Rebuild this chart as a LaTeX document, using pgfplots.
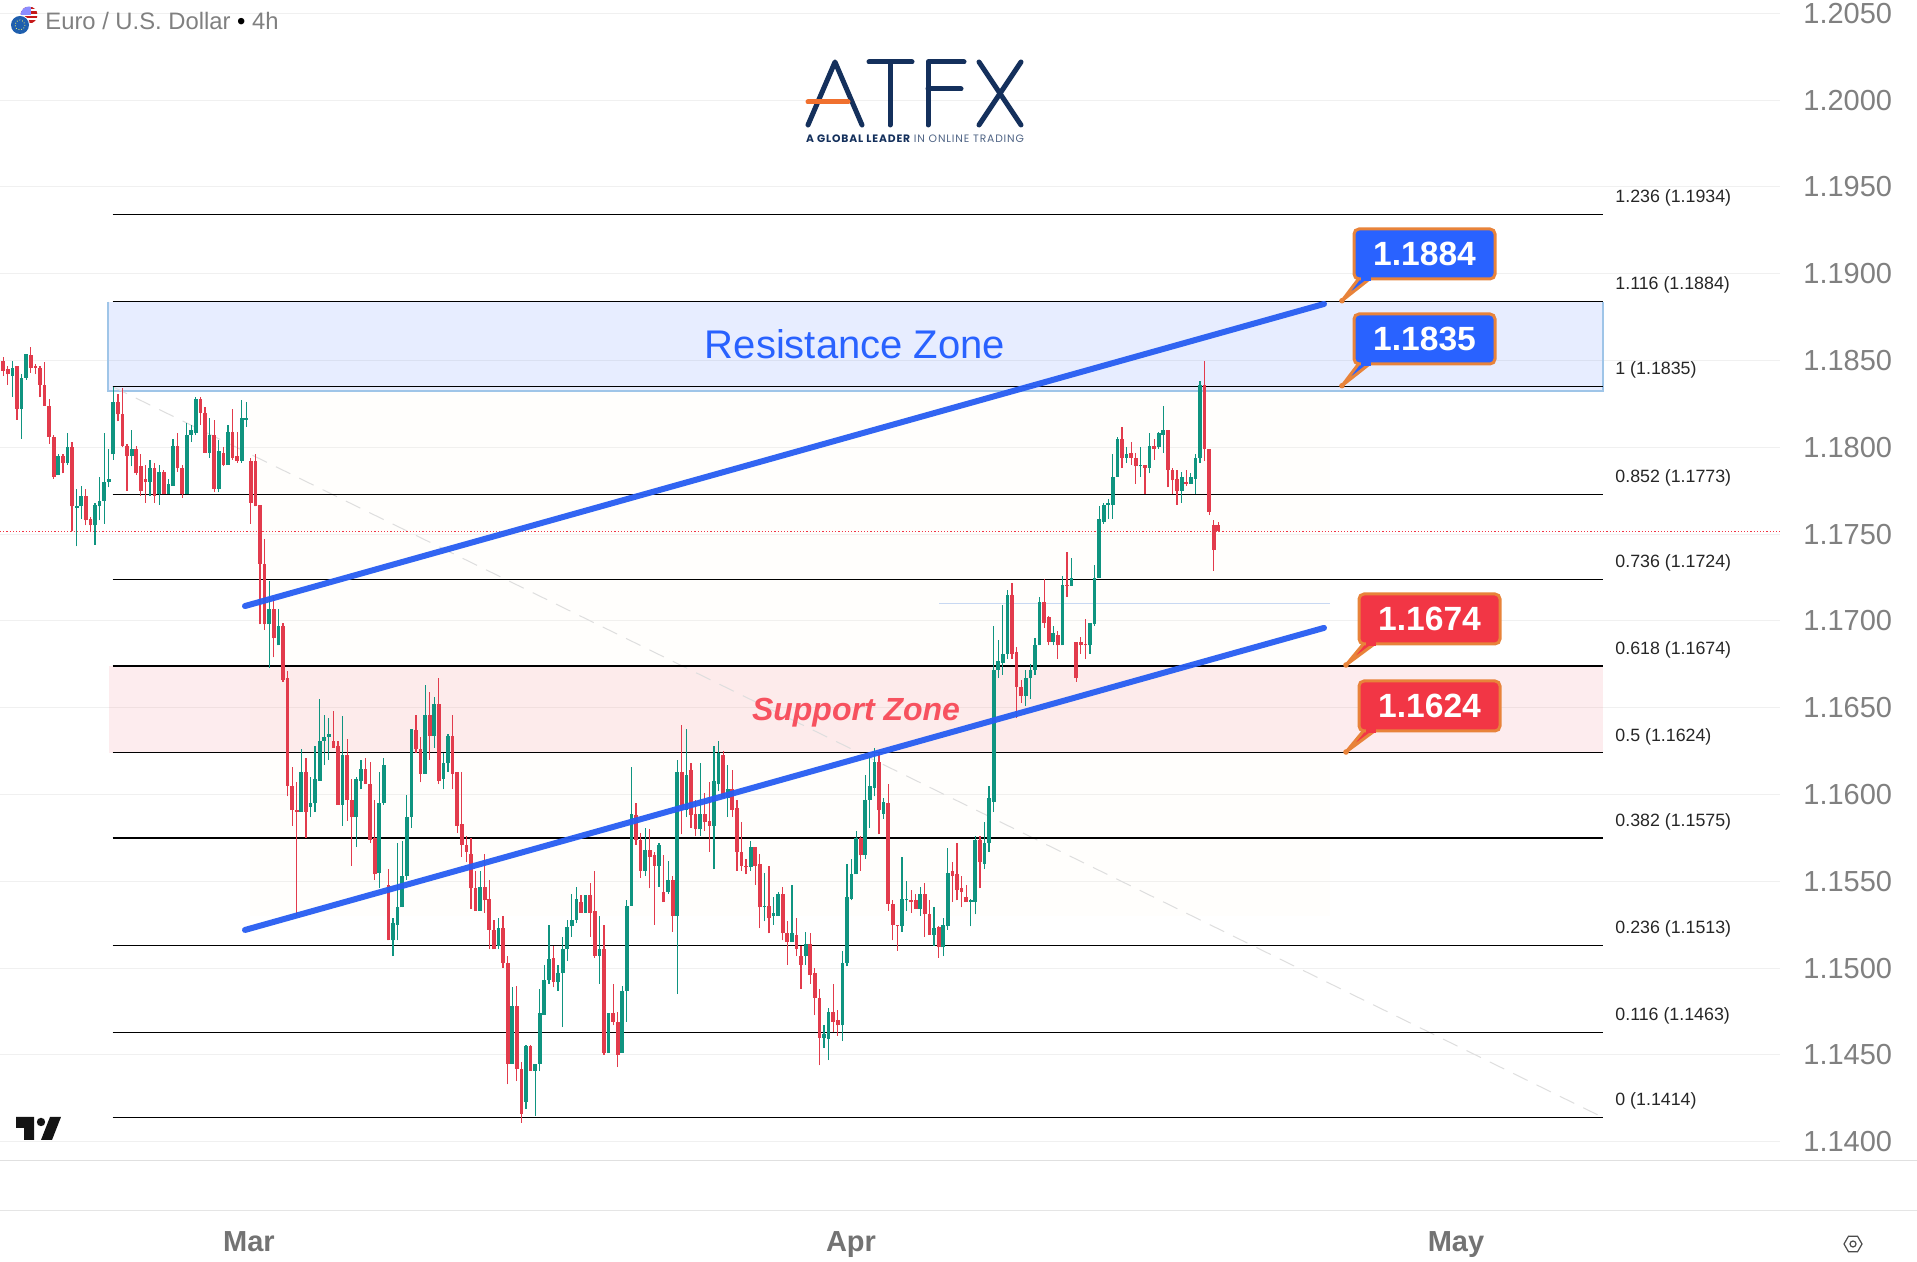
\documentclass[border=0pt]{standalone}
\usepackage{fontspec}
\setmainfont{Liberation Sans}
\newfontfamily\logofont{Poppins}
\usepackage{pgfplots}
\usepackage{pgfplotstable}
\pgfplotsset{compat=1.18}
\definecolor{upc}{HTML}{0F9480}
\definecolor{dnc}{HTML}{E23B4C}
\definecolor{tvblue}{HTML}{2962FF}
\definecolor{tvred}{HTML}{F23645}
\definecolor{cborder}{HTML}{E8833A}
\definecolor{navy}{HTML}{14305C}
\definecolor{lblgray}{HTML}{808080}
\definecolor{paley}{HTML}{FFF5D6}
\definecolor{supp}{HTML}{F7525F}
\definecolor{logoor}{HTML}{F0702E}
\definecolor{zoneb}{HTML}{9FC5E8}
\definecolor{thinb}{HTML}{C8D8F2}
\definecolor{eurob}{HTML}{1F5FAE}
\pgfplotstableread{
i o h l c
0 1.1850 1.1852 1.1841 1.1844
1 1.1845 1.1847 1.1836 1.1842
2 1.1841 1.1850 1.1829 1.1846
3 1.1847 1.1847 1.1816 1.1822
4 1.1822 1.1842 1.1805 1.1840
5 1.1840 1.1854 1.1839 1.1854
6 1.1853 1.1858 1.1843 1.1846
7 1.1847 1.1848 1.1842 1.1846
8 1.1846 1.1847 1.1829 1.1836
9 1.1836 1.1849 1.1824 1.1824
10 1.1824 1.1828 1.1802 1.1806
11 1.1806 1.1807 1.1782 1.1783
12 1.1784 1.1796 1.1784 1.1795
13 1.1795 1.1796 1.1785 1.1791
14 1.1791 1.1808 1.1790 1.1800
15 1.1800 1.1803 1.1752 1.1766
16 1.1765 1.1776 1.1743 1.1766
17 1.1766 1.1778 1.1759 1.1772
18 1.1772 1.1776 1.1755 1.1758
19 1.1759 1.1760 1.1751 1.1755
20 1.1755 1.1768 1.1744 1.1767
21 1.1766 1.1783 1.1758 1.1769
22 1.1769 1.1808 1.1756 1.1780
23 1.1780 1.1799 1.1777 1.1782
24 1.1796 1.1835 1.1793 1.1826
25 1.1826 1.1831 1.1815 1.1819
26 1.1819 1.1834 1.1800 1.1801
27 1.1801 1.1802 1.1775 1.1795
28 1.1795 1.1810 1.1789 1.1799
29 1.1799 1.1801 1.1784 1.1785
30 1.1789 1.1796 1.1772 1.1775
31 1.1782 1.1790 1.1768 1.1780
32 1.1780 1.1793 1.1772 1.1788
33 1.1788 1.1791 1.1768 1.1772
34 1.1773 1.1790 1.1767 1.1786
35 1.1786 1.1787 1.1773 1.1773
36 1.1773 1.1782 1.1773 1.1779
37 1.1778 1.1805 1.1778 1.1801
38 1.1801 1.1808 1.1786 1.1788
39 1.1788 1.1790 1.1771 1.1773
40 1.1773 1.1814 1.1773 1.1807
41 1.1807 1.1813 1.1803 1.1810
42 1.1808 1.1829 1.1807 1.1828
43 1.1828 1.1829 1.1813 1.1820
44 1.1820 1.1823 1.1797 1.1797
45 1.1797 1.1817 1.1794 1.1807
46 1.1807 1.1816 1.1774 1.1776
47 1.1776 1.1804 1.1774 1.1798
48 1.1797 1.1800 1.1789 1.1790
49 1.1790 1.1813 1.1790 1.1809
50 1.1809 1.1822 1.1793 1.1794
51 1.1795 1.1809 1.1791 1.1792
52 1.1792 1.1827 1.1791 1.1817
53 1.1816 1.1826 1.1812 1.1817
54 1.1792 1.1794 1.1756 1.1768
55 1.1792 1.1796 1.1766 1.1766
56 1.1767 1.1767 1.1698 1.1733
57 1.1733 1.1747 1.1695 1.1698
58 1.1698 1.1723 1.1673 1.1707
59 1.1707 1.1714 1.1679 1.1690
60 1.1686 1.1707 1.1686 1.1697
61 1.1697 1.1699 1.1665 1.1666
62 1.1667 1.1671 1.1599 1.1605
63 1.1605 1.1616 1.1582 1.1591
64 1.1591 1.1607 1.1530 1.1590
65 1.1590 1.1626 1.1590 1.1613
66 1.1613 1.1621 1.1575 1.1590
67 1.1593 1.1610 1.1587 1.1595
68 1.1595 1.1628 1.1590 1.1609
69 1.1608 1.1655 1.1608 1.1631
70 1.1631 1.1646 1.1617 1.1633
71 1.1633 1.1644 1.1620 1.1635
72 1.1631 1.1648 1.1627 1.1627
73 1.1628 1.1631 1.1594 1.1594
74 1.1594 1.1645 1.1582 1.1623
75 1.1623 1.1632 1.1585 1.1597
76 1.1597 1.1609 1.1559 1.1587
77 1.1587 1.1610 1.1570 1.1609
78 1.1608 1.1620 1.1603 1.1615
79 1.1615 1.1621 1.1606 1.1606
80 1.1606 1.1619 1.1572 1.1574
81 1.1575 1.1597 1.1551 1.1554
82 1.1555 1.1613 1.1546 1.1595
83 1.1595 1.1621 1.1594 1.1617
84 1.1548 1.1557 1.1516 1.1516
85 1.1516 1.1529 1.1507 1.1526
86 1.1525 1.1572 1.1516 1.1535
87 1.1535 1.1573 1.1535 1.1553
88 1.1553 1.1600 1.1551 1.1587
89 1.1587 1.1638 1.1581 1.1638
90 1.1637 1.1646 1.1624 1.1626
91 1.1626 1.1633 1.1607 1.1612
92 1.1612 1.1663 1.1612 1.1646
93 1.1646 1.1659 1.1620 1.1634
94 1.1634 1.1656 1.1627 1.1652
95 1.1652 1.1667 1.1606 1.1608
96 1.1609 1.1624 1.1603 1.1618
97 1.1618 1.1635 1.1613 1.1634
98 1.1634 1.1646 1.1603 1.1612
99 1.1613 1.1613 1.1578 1.1582
100 1.1583 1.1613 1.1564 1.1571
101 1.1571 1.1576 1.1561 1.1567
102 1.1566 1.1575 1.1534 1.1546
103 1.1546 1.1556 1.1533 1.1533
104 1.1533 1.1556 1.1533 1.1547
105 1.1547 1.1566 1.1532 1.1539
106 1.1540 1.1551 1.1511 1.1522
107 1.1522 1.1528 1.1511 1.1511
108 1.1513 1.1529 1.1511 1.1523
109 1.1523 1.1530 1.1500 1.1503
110 1.1503 1.1507 1.1433 1.1445
111 1.1445 1.1489 1.1445 1.1478
112 1.1478 1.1490 1.1435 1.1442
113 1.1442 1.1446 1.1411 1.1416
114 1.1423 1.1456 1.1419 1.1455
115 1.1455 1.1456 1.1441 1.1441
116 1.1441 1.1445 1.1415 1.1445
117 1.1445 1.1488 1.1441 1.1474
118 1.1473 1.1502 1.1473 1.1493
119 1.1493 1.1525 1.1491 1.1505
120 1.1506 1.1513 1.1489 1.1492
121 1.1492 1.1502 1.1487 1.1497
122 1.1497 1.1518 1.1466 1.1511
123 1.1511 1.1528 1.1504 1.1524
124 1.1524 1.1543 1.1518 1.1528
125 1.1528 1.1547 1.1526 1.1540
126 1.1538 1.1542 1.1532 1.1532
127 1.1532 1.1542 1.1532 1.1542
128 1.1542 1.1549 1.1518 1.1532
129 1.1533 1.1556 1.1506 1.1507
130 1.1507 1.1530 1.1491 1.1511
131 1.1511 1.1525 1.1450 1.1451
132 1.1451 1.1474 1.1451 1.1474
133 1.1474 1.1491 1.1467 1.1469
134 1.1469 1.1475 1.1443 1.1450
135 1.1451 1.1490 1.1451 1.1487
136 1.1487 1.1539 1.1469 1.1536
137 1.1536 1.1616 1.1536 1.1589
138 1.1588 1.1595 1.1571 1.1574
139 1.1574 1.1578 1.1552 1.1556
140 1.1556 1.1581 1.1553 1.1568
141 1.1568 1.1580 1.1546 1.1564
142 1.1565 1.1567 1.1525 1.1559
143 1.1559 1.1572 1.1547 1.1571
144 1.1544 1.1565 1.1538 1.1538
145 1.1544 1.1562 1.1543 1.1551
146 1.1551 1.1553 1.1521 1.1530
147 1.1530 1.1620 1.1485 1.1613
148 1.1613 1.1640 1.1577 1.1591
149 1.1591 1.1638 1.1587 1.1611
150 1.1614 1.1618 1.1581 1.1588
151 1.1589 1.1597 1.1576 1.1580
152 1.1580 1.1618 1.1576 1.1589
153 1.1589 1.1601 1.1579 1.1584
154 1.1585 1.1607 1.1567 1.1582
155 1.1582 1.1628 1.1557 1.1608
156 1.1606 1.1631 1.1602 1.1624
157 1.1623 1.1625 1.1598 1.1598
158 1.1598 1.1617 1.1587 1.1603
159 1.1603 1.1614 1.1587 1.1591
160 1.1592 1.1597 1.1556 1.1567
161 1.1567 1.1584 1.1556 1.1559
162 1.1559 1.1563 1.1554 1.1558
163 1.1558 1.1573 1.1556 1.1570
164 1.1570 1.1570 1.1548 1.1559
165 1.1560 1.1566 1.1523 1.1535
166 1.1535 1.1555 1.1527 1.1536
167 1.1536 1.1559 1.1520 1.1529
168 1.1530 1.1541 1.1525 1.1532
169 1.1530 1.1544 1.1530 1.1543
170 1.1543 1.1547 1.1516 1.1520
171 1.1520 1.1527 1.1502 1.1515
172 1.1515 1.1548 1.1515 1.1520
173 1.1519 1.1529 1.1507 1.1511
174 1.1507 1.1513 1.1488 1.1502
175 1.1507 1.1521 1.1502 1.1514
176 1.1514 1.1520 1.1491 1.1496
177 1.1497 1.1500 1.1473 1.1483
178 1.1483 1.1488 1.1444 1.1460
179 1.1460 1.1467 1.1454 1.1462
180 1.1459 1.1477 1.1447 1.1475
181 1.1475 1.1491 1.1463 1.1469
182 1.1470 1.1476 1.1461 1.1467
183 1.1467 1.1510 1.1458 1.1503
184 1.1503 1.1560 1.1501 1.1541
185 1.1540 1.1563 1.1539 1.1554
186 1.1554 1.1579 1.1554 1.1575
187 1.1575 1.1576 1.1556 1.1565
188 1.1565 1.1611 1.1563 1.1597
189 1.1597 1.1622 1.1581 1.1605
190 1.1604 1.1627 1.1599 1.1619
191 1.1619 1.1624 1.1577 1.1591
192 1.1589 1.1598 1.1586 1.1596
193 1.1595 1.1606 1.1533 1.1537
194 1.1537 1.1539 1.1516 1.1525
195 1.1525 1.1525 1.1510 1.1524
196 1.1524 1.1564 1.1521 1.1540
197 1.1539 1.1550 1.1533 1.1540
198 1.1539 1.1545 1.1532 1.1538
199 1.1539 1.1543 1.1534 1.1534
200 1.1534 1.1547 1.1530 1.1543
201 1.1543 1.1549 1.1518 1.1531
202 1.1531 1.1539 1.1519 1.1519
203 1.1519 1.1535 1.1513 1.1523
204 1.1524 1.1524 1.1506 1.1512
205 1.1512 1.1529 1.1507 1.1525
206 1.1524 1.1569 1.1522 1.1555
207 1.1556 1.1561 1.1538 1.1553
208 1.1554 1.1572 1.1539 1.1545
209 1.1546 1.1553 1.1535 1.1544
210 1.1541 1.1548 1.1538 1.1538
211 1.1538 1.1540 1.1524 1.1539
212 1.1538 1.1576 1.1531 1.1574
213 1.1574 1.1576 1.1546 1.1561
214 1.1560 1.1584 1.1557 1.1572
215 1.1572 1.1605 1.1567 1.1598
216 1.1596 1.1697 1.1590 1.1672
217 1.1672 1.1689 1.1667 1.1677
218 1.1676 1.1709 1.1669 1.1681
219 1.1681 1.1718 1.1678 1.1715
220 1.1715 1.1722 1.1678 1.1681
221 1.1682 1.1685 1.1644 1.1662
222 1.1662 1.1666 1.1653 1.1657
223 1.1657 1.1672 1.1651 1.1667
224 1.1667 1.1675 1.1655 1.1672
225 1.1672 1.1690 1.1669 1.1686
226 1.1686 1.1714 1.1686 1.1711
227 1.1711 1.1724 1.1696 1.1699
228 1.1702 1.1703 1.1686 1.1688
229 1.1688 1.1697 1.1686 1.1693
230 1.1692 1.1694 1.1678 1.1686
231 1.1686 1.1726 1.1686 1.1721
232 1.1721 1.1740 1.1714 1.1720
233 1.1720 1.1736 1.1720 1.1725
234 1.1688 1.1688 1.1665 1.1667
235 1.1688 1.1691 1.1681 1.1686
236 1.1687 1.1701 1.1678 1.1686
237 1.1686 1.1699 1.1681 1.1699
238 1.1698 1.1732 1.1697 1.1725
239 1.1725 1.1766 1.1725 1.1759
240 1.1757 1.1768 1.1756 1.1767
241 1.1767 1.1770 1.1759 1.1768
242 1.1767 1.1796 1.1759 1.1783
243 1.1783 1.1806 1.1783 1.1805
244 1.1805 1.1812 1.1788 1.1794
245 1.1794 1.1800 1.1791 1.1796
246 1.1797 1.1803 1.1790 1.1794
247 1.1794 1.1797 1.1779 1.1789
248 1.1789 1.1800 1.1783 1.1790
249 1.1790 1.1790 1.1773 1.1788
250 1.1788 1.1808 1.1785 1.1801
251 1.1801 1.1805 1.1793 1.1799
252 1.1800 1.1809 1.1799 1.1808
253 1.1807 1.1824 1.1797 1.1810
254 1.1810 1.1810 1.1777 1.1787
255 1.1787 1.1788 1.1773 1.1781
256 1.1782 1.1787 1.1767 1.1775
257 1.1775 1.1786 1.1768 1.1783
258 1.1780 1.1787 1.1778 1.1779
259 1.1779 1.1785 1.1779 1.1783
260 1.1782 1.1796 1.1773 1.1794
261 1.1794 1.1838 1.1791 1.1836
262 1.1836 1.1850 1.1792 1.1799
263 1.1799 1.1799 1.1761 1.1763
264 1.1755 1.1758 1.1729 1.1741
265 1.1755 1.1757 1.1751 1.1752
}\candles
\newcommand{\fib}[2]{%
  \addplot[black,line width=0.6pt,forget plot] coordinates {(112.5,#2)(1603,#2)};
  \node[anchor=west,inner sep=0pt,text=black!85,font=\fontsize{8.9}{10}\selectfont,yshift=8.2pt] at (axis cs:1615,#2) {#1 (#2)};
}
\begin{document}
\begin{tikzpicture}
\fill[white] (0,0) rectangle (958.5pt,631pt);
\path[use as bounding box] (0,0) rectangle (958.5pt,631pt);
\begin{axis}[
  at={(0pt,51pt)},anchor=origin,
  scale only axis,width=890pt,height=580pt,
  xmin=0,xmax=1780,ymin=1.13895,ymax=1.20577,
  axis x line*=bottom,axis y line*=right,
  axis line style={draw=none},
  x axis line style={draw=none},
  major tick length=0pt,
  xtick={249,851,1456},xticklabels={Mar,Apr,May},
  ytick={1.14,1.145,1.15,1.155,1.16,1.165,1.17,1.175,1.18,1.185,1.19,1.195,1.2,1.205},
  yticklabel pos=right,
  ymajorgrids,grid style={draw=black!6,line width=0.5pt},
  y tick label style={font=\fontsize{14.5}{16}\selectfont,text=lblgray,inner sep=0pt,anchor=west,xshift=11.5pt,
     /pgf/number format/fixed,/pgf/number format/fixed zerofill,/pgf/number format/precision=4,/pgf/number format/assume math mode=true},
  x tick label style={font=\fontsize{14.5}{16}\selectfont\bfseries,text=black!55,inner sep=0pt,anchor=base,yshift=-45.75pt},
  unbounded coords=discard,
]
% pale area, zones
\addplot[fill=paley,draw=none,fill opacity=0.07,forget plot] coordinates {(250,1.1835)(1330,1.1835)(1330,1.1530)(250,1.1530)} -- cycle;
\addplot[fill=tvblue,fill opacity=0.11,draw=none,forget plot] coordinates {(108,1.1884)(1603,1.1884)(1603,1.18325)(108,1.18325)} -- cycle;
\addplot[draw=zoneb,line width=0.6pt,forget plot] coordinates {(108,1.1884)(108,1.18325)(1603,1.18325)(1603,1.1884)};
\addplot[fill=tvred,fill opacity=0.09,draw=none,forget plot] coordinates {(109,1.1674)(1603,1.1674)(1603,1.1624)(109,1.1624)} -- cycle;
% light horizontal line
\addplot[thinb,line width=0.7pt,forget plot] coordinates {(939,1.1710)(1330,1.1710)};
% dashed diagonal
\addplot[black!13,line width=0.5pt,dash pattern=on 8pt off 5pt,forget plot] coordinates {(112.5,1.1835)(1603,1.1414)};
% dotted last price
\addplot[tvred,line width=0.45pt,dash pattern=on 0.6pt off 1pt,forget plot] coordinates {(0,1.17518)(1780,1.17518)};
% fib levels
\fib{1.236}{1.1934}
\fib{1.116}{1.1884}
\fib{1}{1.1835}
\fib{0.852}{1.1773}
\fib{0.736}{1.1724}
\fib{0.618}{1.1674}
\fib{0.5}{1.1624}
\fib{0.382}{1.1575}
\fib{0.236}{1.1513}
\fib{0.116}{1.1463}
\fib{0}{1.1414}
% candles: wicks
\addplot[draw=none,no markers,forget plot,
  x filter/.expression={\thisrow{c}>=\thisrow{o} ? x : nan},
  error bars/.cd,y dir=plus,y explicit,error mark=none,
  error bar style={draw=upc,line width=0.6pt}]
  table[x expr=3.3+4.585*\thisrow{i},y=l,y error plus expr=\thisrow{h}-\thisrow{l}] {\candles};
\addplot[draw=none,no markers,forget plot,
  x filter/.expression={\thisrow{c}<\thisrow{o} ? x : nan},
  error bars/.cd,y dir=plus,y explicit,error mark=none,
  error bar style={draw=dnc,line width=0.6pt}]
  table[x expr=3.3+4.585*\thisrow{i},y=l,y error plus expr=\thisrow{h}-\thisrow{l}] {\candles};
% candles: bodies
\addplot[draw=none,no markers,forget plot,
  x filter/.expression={\thisrow{c}>=\thisrow{o} ? x : nan},
  error bars/.cd,y dir=plus,y explicit,error mark=none,
  error bar style={draw=upc,line width=1.85pt}]
  table[x expr=3.3+4.585*\thisrow{i},y=o,y error plus expr=\thisrow{c}-\thisrow{o}] {\candles};
\addplot[draw=none,no markers,forget plot,
  x filter/.expression={\thisrow{c}<\thisrow{o} ? x : nan},
  error bars/.cd,y dir=plus,y explicit,error mark=none,
  error bar style={draw=dnc,line width=1.85pt}]
  table[x expr=3.3+4.585*\thisrow{i},y=c,y error plus expr=\thisrow{o}-\thisrow{c}] {\candles};
% trend lines
\addplot[tvblue!95!black,opacity=0.95,line width=3pt,line cap=round,forget plot] coordinates {(245,1.17086)(1324,1.18826)};
\addplot[tvblue!95!black,opacity=0.95,line width=3pt,line cap=round,forget plot] coordinates {(245,1.15220)(1324,1.16960)};
% zone names
\node[text=tvblue,font=\fontsize{20}{22}\selectfont] at (axis cs:855,1.18592) {Resistance Zone};
\node[text=supp,font=\fontsize{16}{18}\selectfont\bfseries\itshape] at (axis cs:856,1.16470) {Support Zone};
\end{axis}
% overlay in image pixels (y down)
\begin{scope}[shift={(0pt,631pt)},x=0.5pt,y=-0.5pt]
  % axis bottom rules
  \draw[black!12,line width=0.9pt] (0,1160.5) -- (1917,1160.5);
  \draw[black!10,line width=0.5pt] (0,1211) -- (1917,1211);
  % header
  \begin{scope}
    \clip (29,15) circle (8.5);
    \fill[white] (20,6) rectangle (38,24);
    \foreach \yy in {7,11.5,16,20.5}{\fill[red!75!black!90] (20,\yy) rectangle (38,\yy+2.4);}
    \fill[blue!45] (20,6) rectangle (31,15);
  \end{scope}
  \fill[white] (20,25) circle (10);
  \fill[eurob] (20,25) circle (9);
  \draw[yellow!60,densely dotted,line width=0.4pt] (20,25) circle (5);
  \node[anchor=west,inner sep=0pt,text=lblgray,font=\fontsize{11.9}{13}\selectfont] at (45,21) {Euro / U.S. Dollar {\color{black}\textbullet} 4h};
  % logo
  \begin{scope}[line width=2.5pt,draw=navy,line cap=round,line join=round]
    \draw (808,125) -- (835,62) -- (862,125);
    \draw (869,62) -- (912,62);
    \draw (890,62) -- (890,125);
    \draw (928,125) -- (928,62) -- (964,62);
    \draw (928,89) -- (961,89);
    \draw (979,62) -- (1021,125);
    \draw (1021,62) -- (979,125);
    \draw[draw=logoor] (808,102) -- (848,102);
  \end{scope}
  \node[inner sep=0pt] at (915,139) {\resizebox{109pt}{!}{\logofont\fontsize{6}{7}\selectfont\addfontfeature{LetterSpace=8}{\color{navy}\bfseries A GLOBAL LEADER} {\color{navy!75}IN ONLINE TRADING}}};
  % TV mark
  \fill[black!92] (16,1117) -- (34,1117) -- (34,1140) -- (24,1140) -- (24,1128) -- (16,1128) -- cycle;
  \fill[black!92] (41,1122) circle (4.2);
  \fill[black!92] (61,1117) -- (52,1140) -- (41,1140) -- (50,1117) -- cycle;
  % gear
  \draw[black!70,line width=0.6pt] (1862,1244) -- (1857.5,1251.8) -- (1848.5,1251.8) -- (1844,1244) -- (1848.5,1236.2) -- (1857.5,1236.2) -- cycle;
  \draw[black!70,line width=0.6pt] (1853,1244) circle (3);
  % callouts
  \newcommand{\callout}[7]{%
    \draw[draw=cborder,fill=#6,line width=1.5pt,line join=round] (#3,#4) -- (#1+6,#2+48) -- (#1+18,#2+48) -- cycle;
    \fill[cborder] (#3,#4) circle (2.8);
    \draw[draw=cborder,fill=#6,line width=1.5pt,rounded corners=2.5pt] (#1,#2) rectangle (#1+#5,#2+50);
    \fill[#6] (#1+7,#2+47) rectangle (#1+17,#2+52);
    \node[text=white,font=\fontsize{16.8}{18}\selectfont\bfseries] at (#1+#5/2,#2+25) {#7};
  }
  \callout{1354}{229}{1342}{300.7}{141}{tvblue}{1.1884}
  \callout{1354}{314}{1342}{385.7}{141}{tvblue}{1.1835}
  \callout{1359}{594}{1346}{665}{141}{tvred}{1.1674}
  \callout{1359}{681}{1346}{752}{141}{tvred}{1.1624}
\end{scope}
\end{tikzpicture}
\end{document}
